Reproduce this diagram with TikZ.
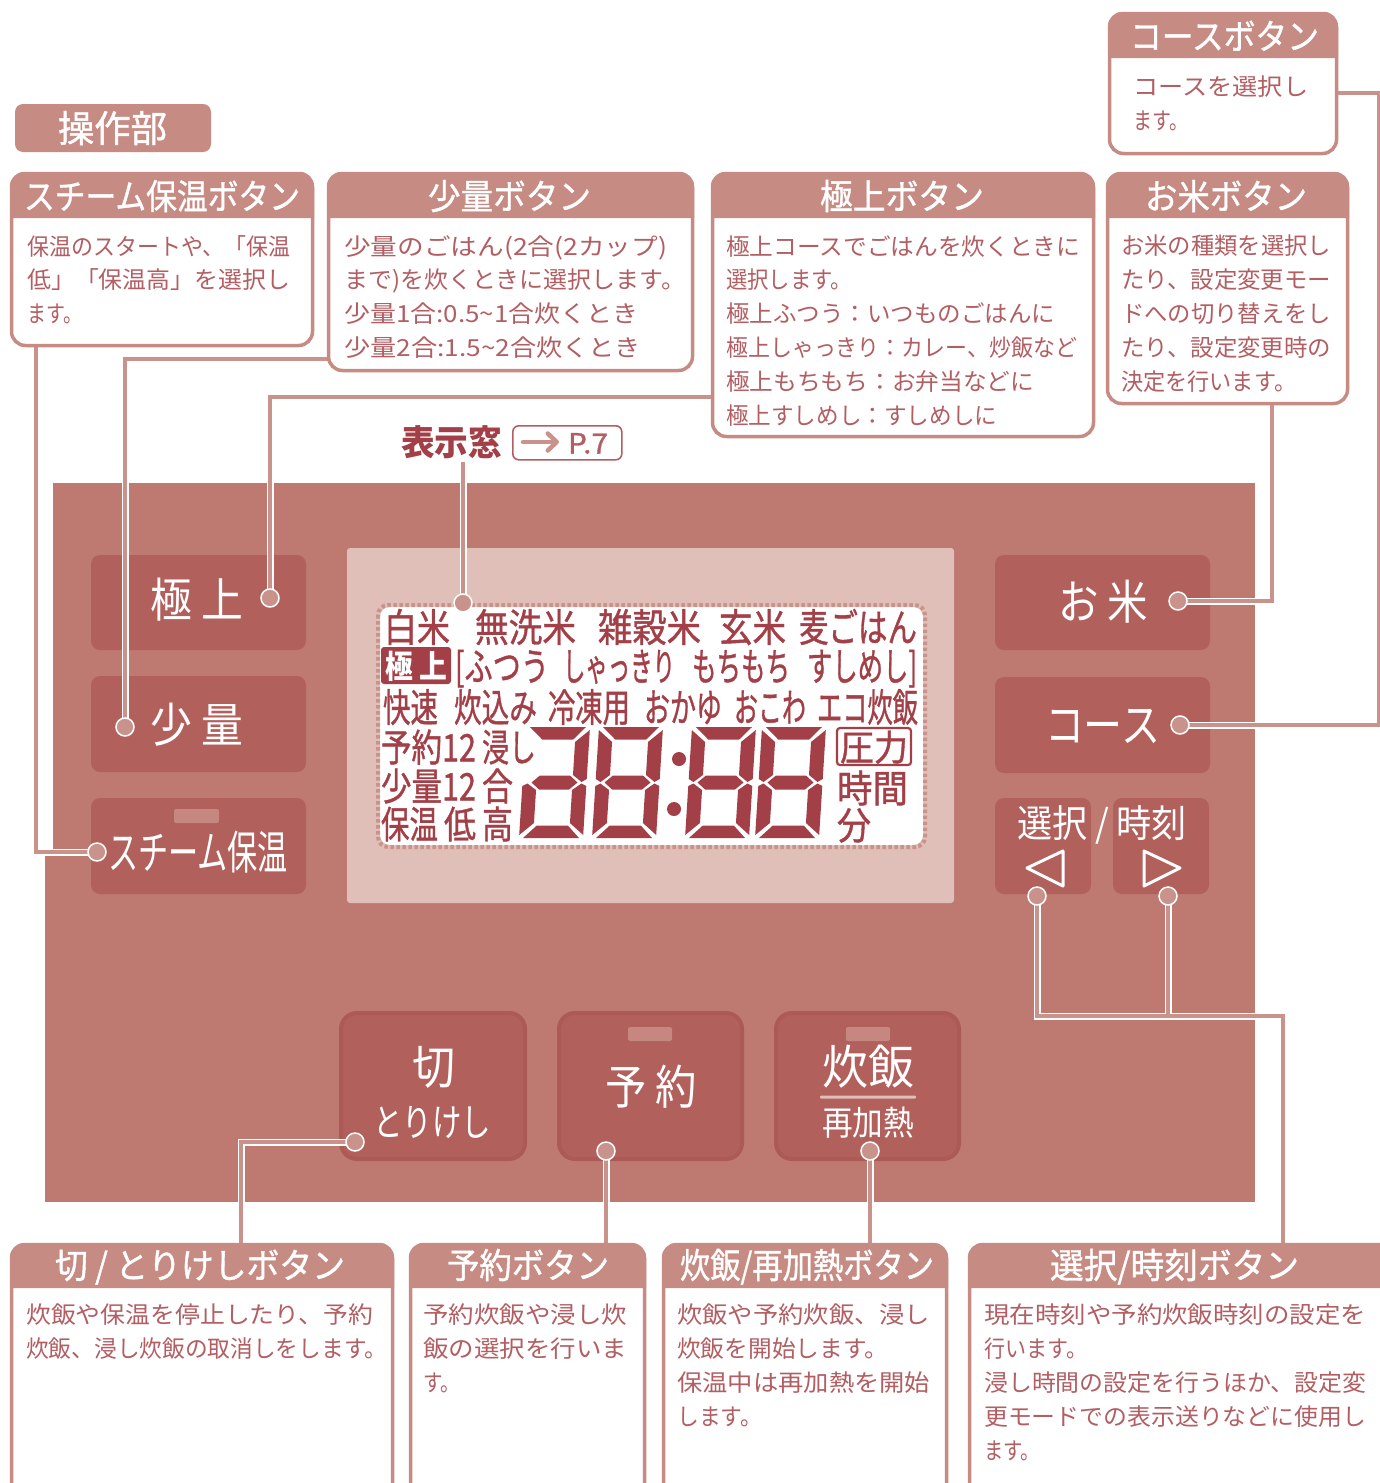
\documentclass[tikz,border=0pt]{standalone}
\usepackage{fontspec}
\usepackage{graphicx}
\setmainfont{Noto Sans CJK JP}
\newfontfamily\medf[FakeBold=1.1]{Noto Sans CJK JP}
\usetikzlibrary{arrows.meta}
\definecolor{panelc}{HTML}{BE7A70}
\definecolor{btnc}{HTML}{B1605C}
\definecolor{btne}{HTML}{AC5A56}
\definecolor{dispc}{HTML}{DFBFB8}
\definecolor{hdrc}{HTML}{C68C84}
\definecolor{connc}{HTML}{C9938B}
\definecolor{lcdc}{HTML}{A33F47}
\definecolor{bodyc}{HTML}{B25E63}
\definecolor{indc}{HTML}{C5877F}
\pgfdeclarelayer{base}
\pgfdeclarelayer{conn}
\pgfsetlayers{base,conn,main}
\newsavebox\fitbox
\newcommand\fitw[2]{\sbox\fitbox{#2}\pgfmathsetmacro\fitr{(#1)/\the\wd\fitbox}\scalebox{\fitr}[1]{\usebox\fitbox}}
\newcommand\lnn[2]{\fitw{#1}{\rule[-7pt]{0pt}{26pt}#2}}
% name x1 x2 yc size colour text
\newcommand\ltx[7]{\node[anchor=base,inner sep=0,text=#6,font=\fontsize{#5}{#5}\selectfont] (#1) at ({(#2+#3)/2},{#4+0.38*#5}) {\fitw{#3-#2}{#7}};}
\newcommand\ltm[7]{\ltx{#1}{#2}{#3}{#4}{#5}{#6}{\medf #7}}
% name x1 y1 x2 y2 ybottom-of-header
\newcommand\ibox[6]{%
  \node[boxst,anchor=north west,minimum width=#4-#2-3,minimum height=#5-#3-3] (#1) at (#2+1.5,#3+1.5) {};
  \fill[hdrc] (#2,#6) [rounded corners=14] -- (#2,#3) -- (#4,#3) [sharp corners] -- (#4,#6) -- cycle;}
% name x first-line-centre, body
\newcommand\bodyx[4]{\node[anchor=north west,inner sep=0,align=left,text=bodyc,font=\fontsize{23.5}{33.8}\selectfont] (#1) at (#2,#3-11) {#4};}
\newcommand\dseg[2]{%
 \begin{scope}[shift={(#1,727)},xslant=0.063,lcdc]
 \fill (4,0)--(60,0)--(48,12.5)--(17,12.5)--cycle;
 \fill (64,3)--(64,52)--(59,55)--(50,48)--(50,15)--cycle;
 \fill (64,59)--(64,108)--(50,96)--(50,63)--(59,56.5)--cycle;
 \fill (4,111)--(60,111)--(48,98.5)--(17,98.5)--cycle;
 \fill (0,108)--(0,59)--(5,56.5)--(14,63)--(14,96)--cycle;
 \fill (9,55.5)--(17,48.5)--(47,48.5)--(55,55.5)--(47,62.5)--(17,62.5)--cycle;
 #2
 \end{scope}}
\newcommand\ulseg{\fill (0,3)--(14,15)--(14,48)--(5,55)--(0,52)--cycle;}
\tikzset{
 boxst/.style={draw=hdrc,line width=3.5,fill=white,rounded corners=14,inner sep=0,outer sep=0},
 btn/.style={fill=btnc,rounded corners=9},
 bigbtn/.style={fill=btnc,draw=btne,line width=4,rounded corners=16},
 ind/.style={fill=indc,rounded corners=2},
 conn/.style={draw=white,line width=7,postaction={draw=connc,line width=4}},
 dot/.style={circle,fill=connc,draw=white,line width=1.5,minimum size=18,inner sep=0},
 tri/.style={draw=white,line width=3,line join=round},
}
\begin{document}
\begin{tikzpicture}[x=1pt,y=-1pt]
\useasboundingbox (0,0) rectangle (1380,1483);
\begin{pgfonlayer}{base}
\fill[white] (0,0) rectangle (1380,1483);
% panel
\fill[panelc] (53,483) rectangle (1255,1202);
\fill[panelc] (45,852) rectangle (1255,1202);
% top row buttons
\fill[btn] (91,555) rectangle (306,650);
\fill[btn] (91,676) rectangle (306,772);
\fill[btn] (91,798) rectangle (306,894);
\fill[ind] (174,809) rectangle (219,823);
\fill[btn] (995,555) rectangle (1210,650);
\fill[btn] (995,677) rectangle (1210,773);
\fill[btn] (995,798) rectangle (1091,894);
\fill[btn] (1113,798) rectangle (1209,894);
\draw[bigbtn] (341,1013) rectangle (525,1159);
\draw[bigbtn] (559,1013) rectangle (742,1159);
\draw[bigbtn] (776,1013) rectangle (959,1159);
\fill[ind] (628,1027) rectangle (672,1041);
\fill[ind] (846,1027) rectangle (890,1041);
\ltx{bGoku}{150}{243}{600}{47}{white}{極 上}
\ltx{bSho}{150}{243}{725}{47}{white}{少 量}
\ltx{bSteam}{108}{288}{852}{46}{white}{スチーム保温}
\ltx{bKome}{1058}{1148}{602}{47}{white}{お 米}
\ltx{bCourse}{1045}{1160}{725}{47}{white}{コース}
\ltx{bSel}{1017}{1187}{823}{38}{white}{選択 / 時刻}
\draw[tri] (1027,868)--(1063,851)--(1063,886)--cycle;
\draw[tri] (1144,851)--(1180,868)--(1144,886)--cycle;
\ltx{bKiri}{412}{455}{1067}{47}{white}{切}
\ltx{bTori}{373}{491}{1122}{38}{white}{とりけし}
\ltx{bYoy}{605}{697}{1087}{47}{white}{予 約}
\ltx{bSui}{822}{914}{1067}{47}{white}{炊飯}
\fill[dispc,rounded corners=1] (820,1095.5) rectangle (916,1098.5);
\ltx{bSai}{822}{914}{1123}{34}{white}{再加熱}
% display
\fill[dispc,rounded corners=3] (347,548) rectangle (954,903);
\fill[white,rounded corners=10] (380,607) rectangle (923,845);
\draw[connc,line width=4,dash pattern=on 3.5 off 2.5,rounded corners=10] (378,605) rectangle (925,847);
\ltm{l1}{384}{450}{627}{39}{lcdc}{白米}
\ltm{l2}{475}{576}{627}{39}{lcdc}{無洗米}
\ltm{l3}{598}{701}{627}{39}{lcdc}{雑穀米}
\ltm{l4}{719}{786}{627}{39}{lcdc}{玄米}
\ltm{l5}{799}{917}{627}{39}{lcdc}{麦ごはん}
\fill[lcdc,rounded corners=3] (381,647) rectangle (451,684);
\ltx{l6}{385}{447}{666}{32}{white}{\bfseries 極 上}
\ltm{l7}{455}{549}{666}{39}{lcdc}{[ふつう}
\ltm{l8}{563}{675}{666}{39}{lcdc}{しゃっきり}
\ltm{l9}{692}{790}{666}{39}{lcdc}{もちもち}
\ltm{l10}{807}{917}{666}{39}{lcdc}{すしめし]}
\ltm{l11}{383}{438}{707}{39}{lcdc}{快速}
\ltm{l12}{454}{537}{707}{39}{lcdc}{炊込み}
\ltm{l13}{548}{630}{707}{39}{lcdc}{冷凍用}
\ltm{l14}{644}{722}{707}{39}{lcdc}{おかゆ}
\ltm{l15}{734}{806}{707}{39}{lcdc}{おこわ}
\ltm{l16}{817}{918}{707}{39}{lcdc}{エコ炊飯}
\ltm{l17}{381}{476}{747}{38}{lcdc}{予約12}
\ltm{l18}{482}{536}{747}{38}{lcdc}{浸し}
\ltm{l19}{381}{476}{786}{38}{lcdc}{少量12}
\ltm{l20}{482}{513}{786}{38}{lcdc}{合}
\ltm{l21}{381}{438}{824}{38}{lcdc}{保温}
\ltm{l22}{444}{476}{824}{38}{lcdc}{低}
\ltm{l23}{482}{513}{824}{38}{lcdc}{高}
\draw[lcdc,line width=2.2,rounded corners=3] (837,728) rectangle (911,765);
\ltm{l24}{840}{908}{747}{36}{lcdc}{圧力}
\ltm{l25}{837}{908}{788}{38}{lcdc}{時間}
\ltm{l26}{837}{871}{825}{38}{lcdc}{分}
% digits
\dseg{526}{}
\dseg{599}{\ulseg}
\dseg{692}{\ulseg}
\dseg{762}{\ulseg}
\fill[lcdc] (679,759) circle (7);
\fill[lcdc] (674,809) circle (7);
\end{pgfonlayer}
% dots
\node[dot] (dSteam) at (97,852) {};
\node[dot] (dSho) at (125,727) {};
\node[dot] (dGoku) at (270,598) {};
\node[dot] (dLcd) at (463,603) {};
\node[dot] (dKome) at (1178,601) {};
\node[dot] (dCourse) at (1180,725) {};
\node[dot] (dL) at (1037,896) {};
\node[dot] (dR) at (1168,896) {};
\node[dot] (dKiri) at (355,1142) {};
\node[dot] (dYoy) at (606,1151) {};
\node[dot] (dSui) at (870,1151) {};
\coordinate (oSteam) at (36,347);
\coordinate (oSho) at (328,359);
\coordinate (oGoku) at (712,397);
\coordinate (oKome) at (1272,405);
\coordinate (oCourse) at (1338,93);
\coordinate (cCourse) at (1379,725);
\coordinate (oSel) at (1283,1243);
\coordinate (jSel) at (1168,1016);
\coordinate (oKiri) at (241,1243);
\coordinate (oYoy) at (606,1243);
\coordinate (oSui) at (870,1243);
\coordinate (oLcd) at (463,462);
\begin{pgfonlayer}{conn}
\draw[conn] (dSteam.center) -| (oSteam);
\draw[conn] (dSho.center) |- (oSho);
\draw[conn] (dGoku.center) |- (oGoku);
\draw[conn] (oLcd) -- (dLcd.center);
\draw[conn] (dKome.center) -| (oKome);
\draw[conn] (dCourse.center) -- (cCourse) |- (oCourse);
\draw[conn] (dL.center) |- (jSel) -| (oSel) (dR.center) -- (jSel);
\draw[conn] (dKiri.center) -| (oKiri);
\draw[conn] (dYoy.center) -- (oYoy);
\draw[conn] (dSui.center) -- (oSui);
\end{pgfonlayer}
% label
\ltx{hyoji}{401}{502}{442}{35}{lcdc}{\bfseries 表示窓}
\node[draw=bodyc,line width=1.6,rounded corners=6,anchor=north west,minimum width=109,minimum height=34,inner sep=0,fill=white] (pbox) at (512,425) {};
\draw[connc,line width=4.5,line cap=round,-{Straight Barb[length=9,width=17,line width=4.5,round]}] (523,442) -- (559,442);
\ltm{pseven}{568}{608}{443}{28}{bodyc}{P.7}
% tab
\fill[hdrc,rounded corners=8] (15,104) rectangle (211,152);
\ltm{tab}{58}{167}{128}{37}{white}{操作部}
% boxes
\ibox{bxSteam}{10}{172}{314}{347}{218}
\ltm{tSteam}{24}{300}{196}{35}{white}{スチーム保温ボタン}
\bodyx{xSteam}{27}{246}{\lnn{263}{保温のスタートや、「保温}\\\lnn{263}{低」「保温高」を選択し}\\\lnn{55}{ます。}}
\ibox{bxSho}{327}{172}{694}{372}{218}
\ltm{tSho}{428}{591}{196}{35}{white}{少量ボタン}
\bodyx{xSho}{344}{246}{\lnn{323}{少量のごはん(2合(2カップ)}\\\lnn{341}{まで)を炊くときに選択します。}\\\lnn{294}{少量1合:0.5\string~1合炊くとき}\\\lnn{297}{少量2合:1.5\string~2合炊くとき}}
\ibox{bxGoku}{711}{172}{1095}{438}{218}
\ltm{tGoku}{820}{984}{196}{35}{white}{極上ボタン}
\bodyx{xGoku}{726}{246}{\lnn{354}{極上コースでごはんを炊くときに}\\\lnn{126}{選択します。}\\\lnn{329}{極上ふつう：いつものごはんに}\\\lnn{351}{極上しゃっきり：カレー、炒飯など}\\\lnn{308}{極上もちもち：お弁当などに}\\\lnn{271}{極上すしめし：すしめしに}}
\ibox{bxKome}{1106}{172}{1349}{405}{218}
\ltm{tKome}{1145}{1307}{196}{35}{white}{お米ボタン}
\bodyx{xKome}{1121}{246}{\lnn{210}{お米の種類を選択し}\\\lnn{210}{たり、設定変更モー}\\\lnn{210}{ドへの切り替えをし}\\\lnn{210}{たり、設定変更時の}\\\lnn{175}{決定を行います。}}
\ibox{bxCourse}{1108}{12}{1338}{155}{58}
\ltm{tCourse}{1130}{1319}{36}{35}{white}{コースボタン}
\bodyx{xCourse}{1133}{87}{\lnn{175}{コースを選択し}\\\lnn{55}{ます。}}
\ibox{bxKiri}{10}{1243}{394}{1520}{1288}
\ltm{tKiri}{55}{345}{1265}{35}{white}{切 / とりけしボタン}
\bodyx{xKiri}{26}{1315}{\lnn{347}{炊飯や保温を停止したり、予約}\\\lnn{361}{炊飯、浸し炊飯の取消しをします。}}
\ibox{bxYoy}{409}{1243}{646}{1520}{1288}
\ltm{tYoy}{447}{609}{1265}{35}{white}{予約ボタン}
\bodyx{xYoy}{423}{1315}{\lnn{204}{予約炊飯や浸し炊}\\\lnn{204}{飯の選択を行いま}\\\lnn{37}{す。}}
\ibox{bxSui}{662}{1243}{948}{1520}{1288}
\ltm{tSui}{680}{934}{1265}{35}{white}{炊飯/再加熱ボタン}
\bodyx{xSui}{677}{1315}{\lnn{253}{炊飯や予約炊飯、浸し}\\\lnn{211}{炊飯を開始します。}\\\lnn{253}{保温中は再加熱を開始}\\\lnn{85}{します。}}
\ibox{bxSel}{968}{1243}{1400}{1520}{1288}
\ltm{tSel}{1050}{1299}{1265}{35}{white}{選択/時刻ボタン}
\bodyx{xSel}{984}{1315}{\lnn{382}{現在時刻や予約炊飯時刻の設定を}\\\lnn{103}{行います。}\\\lnn{382}{浸し時間の設定を行うほか、設定変}\\\lnn{382}{更モードでの表示送りなどに使用し}\\\lnn{56}{ます。}}
\end{tikzpicture}
\end{document}
